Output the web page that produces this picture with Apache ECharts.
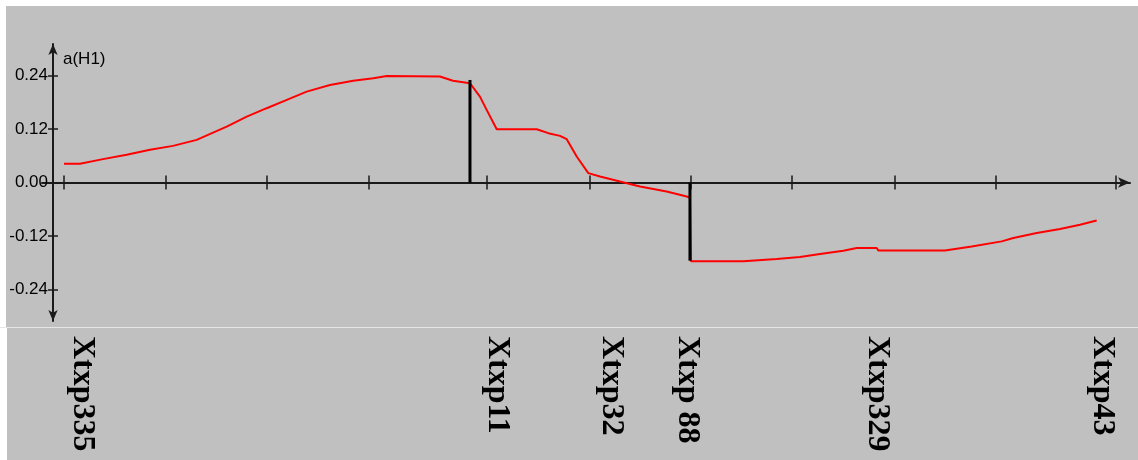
<!DOCTYPE html>
<html>
<head>
<meta charset="utf-8">
<script src="https://cdn.jsdelivr.net/npm/echarts@6/dist/echarts.min.js"></script>
<style>html,body{margin:0;padding:0;background:#fff}#c{width:1138px;height:460px}</style>
</head>
<body>
<div id="c"></div>
<script>
// Curve samples: [x, a(H1)]
const curveX = [0.00,0.157,0.383,0.616,0.845,1.071,1.304,1.415,1.599,1.796,1.992,2.172,2.385,2.614,2.843,3.040,3.172,3.695,3.823,3.990,4.088,4.154,4.253,4.646,4.760,4.875,4.941,5.039,5.153,5.268,5.464,5.661,5.923,6.120,6.152,6.162,6.676,7.004,7.233,7.430,7.659,7.791,7.987,8.003,8.658,8.921,9.216,9.330,9.560,9.789,9.985,10.149];
const curveY = [0.0418,0.0418,0.0523,0.0619,0.0731,0.0820,0.0954,0.1066,0.1251,0.1475,0.1663,0.1832,0.2034,0.2183,0.2279,0.2333,0.2384,0.2373,0.2279,0.2221,0.1922,0.1625,0.1193,0.1193,0.1104,0.1044,0.0970,0.0581,0.0210,0.0134,0.0022,-0.0089,-0.0201,-0.0313,-0.0340,-0.1765,-0.1765,-0.1712,-0.1667,-0.1600,-0.1526,-0.1466,-0.1466,-0.1520,-0.1520,-0.1430,-0.1318,-0.1242,-0.1131,-0.1041,-0.0945,-0.0849];
// Vertical marker lines
const markX = [3.990, 6.152];
const markY = [0.2295, -0.175];
// Axis ticks
const xTicks = [0, 0.998, 1.995, 2.998, 4.157, 5.164, 6.162, 7.153, 8.164, 9.160, 10.339];
const yTicks = [-0.24, -0.12, 0, 0.12, 0.24];
// Station labels
const stationNames = ['Xtxp335', 'Xtxp11', 'Xtxp32', 'Xtxp 88', 'Xtxp329', 'Xtxp43'];
const stationX = [0.177, 4.256, 5.376, 6.123, 7.990, 10.202];

const X_MIN = -0.2162, X_MAX = 10.4767, Y_MIN = -0.31, Y_MAX = 0.31;

const curve = curveX.map((x, i) => [x, curveY[i]]);
const marks = markX.map((x, i) => [x, markY[i]]);

const chart = echarts.init(document.getElementById('c'), null, {renderer: 'canvas'});
const baseX = {type: 'value', min: X_MIN, max: X_MAX, splitLine: {show: false}, axisLabel: {show: false}};
const baseY = {type: 'value', min: Y_MIN, max: Y_MAX, splitLine: {show: false}, offset: -11, position: 'left'};
chart.setOption({
  animation: false,
  backgroundColor: '#c0c0c0',
  graphic: [
    {type: 'rect', shape: {x: 0, y: 0, width: 1138, height: 6}, style: {fill: '#ffffff'}, silent: true},
    {type: 'rect', shape: {x: 0, y: 0, width: 6, height: 327}, style: {fill: '#ffffff'}, silent: true},
    {type: 'rect', shape: {x: 0, y: 327, width: 7, height: 133}, style: {fill: '#ffffff'}, silent: true},
    {type: 'rect', shape: {x: 0, y: 327, width: 1138, height: 1}, style: {fill: '#e6e6e6'}, silent: true}
  ],
  grid: {left: 42, right: 8, top: 44, bottom: 139, outerBoundsMode: 'none', containLabel: false},
  xAxis: [
    Object.assign({}, baseX, {
      position: 'bottom',
      axisLine: {show: true, onZero: true, symbol: ['none', 'arrow'], symbolSize: [8, 12], lineStyle: {color: '#1a1a1a', width: 2}},
      axisTick: {show: true, customValues: xTicks, inside: false, length: 7, lineStyle: {color: '#1a1a1a', width: 1.5}}
    }),
    Object.assign({}, baseX, {
      position: 'bottom',
      axisLine: {show: false, onZero: true},
      axisTick: {show: true, customValues: xTicks, inside: true, length: 7, lineStyle: {color: '#1a1a1a', width: 1.5}}
    }),
    {
      type: 'value', min: X_MIN, max: X_MAX, position: 'bottom', splitLine: {show: false},
      axisLine: {show: false, onZero: false},
      axisTick: {show: false},
      axisLabel: {
        show: true, customValues: stationX, rotate: -90, margin: 15, hideOverlap: false,
        color: '#000', fontFamily: '"Liberation Serif", "Times New Roman", serif', fontWeight: 'bold', fontSize: 32,
        formatter: (v) => { const i = stationX.indexOf(v); return i >= 0 ? stationNames[i] : ''; }
      }
    }
  ],
  yAxis: [
    Object.assign({}, baseY, {
      name: 'a(H1)', nameLocation: 'end', nameGap: -15,
      nameTextStyle: {align: 'left', verticalAlign: 'middle', padding: [0, 0, 0, 10], color: '#000', fontFamily: '"Liberation Sans", Arial, sans-serif', fontSize: 17},
      axisLine: {show: true, onZero: false, symbol: ['arrow', 'arrow'], symbolSize: [7, 11], lineStyle: {color: '#1a1a1a', width: 2}},
      axisTick: {show: true, customValues: yTicks, inside: false, length: 5, lineStyle: {color: '#1a1a1a', width: 1.5}},
      axisLabel: {show: true, customValues: yTicks, margin: 5, color: '#000', fontFamily: '"Liberation Sans", Arial, sans-serif', fontSize: 17,
        formatter: (v) => v.toFixed(2)}
    }),
    Object.assign({}, baseY, {
      axisLine: {show: false, onZero: false},
      axisTick: {show: true, customValues: yTicks, inside: true, length: 5, lineStyle: {color: '#1a1a1a', width: 1.5}},
      axisLabel: {show: false}
    })
  ],
  series: [
    {
      type: 'line', xAxisIndex: 0, yAxisIndex: 0, data: curve, showSymbol: false, symbol: 'none',
      lineStyle: {color: '#ff0000', width: 2}, z: 3
    },
    {
      type: 'bar', xAxisIndex: 0, yAxisIndex: 0, data: marks, barWidth: 3,
      itemStyle: {color: '#000000'}, z: 4
    }
  ]
});
</script>
</body>
</html>
